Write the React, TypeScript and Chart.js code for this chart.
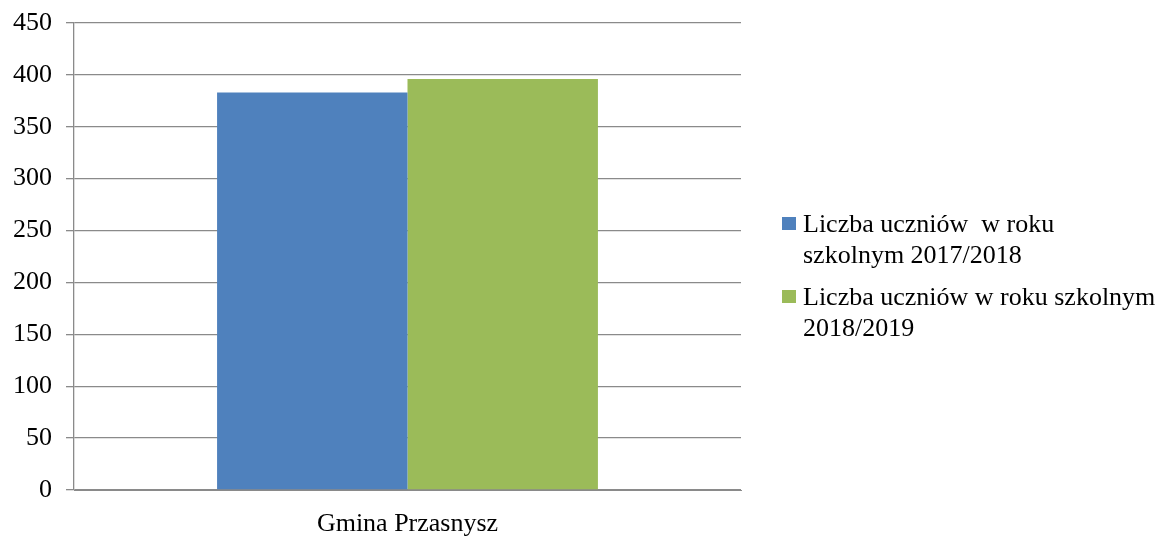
import React, { useEffect, useRef } from "react";
import { Chart, registerables } from "chart.js";

Chart.register(...registerables);

const categories = ["Gmina Przasnysz"];
const seriesLabels = [
  "Liczba uczniów  w roku szkolnym 2017/2018",
  "Liczba uczniów w roku szkolnym 2018/2019",
];
const series2017 = [383];
const series2018 = [396];
const legendLines = [
  ["Liczba uczniów  w roku", "szkolnym 2017/2018"],
  ["Liczba uczniów w roku szkolnym", "2018/2019"],
];
const yTicks = { min: 0, max: 450, step: 50 };

const FONT = "'Liberation Serif', 'Times New Roman', serif";

const legendPlugin = {
  id: "customLegend",
  afterDraw(chart: any) {
    const ctx = chart.ctx;
    const area = chart.chartArea;
    ctx.save();
    ctx.font = `26px ${FONT}`;
    ctx.textBaseline = "alphabetic";
    ctx.textAlign = "left";
    const x0 = area.right + 41;
    let baseY = 232;
    chart.data.datasets.forEach((ds: any, i: number) => {
      ctx.fillStyle = ds.backgroundColor;
      ctx.fillRect(x0, baseY - 15, 14, 13);
      ctx.fillStyle = "#000";
      const lines = legendLines[i];
      lines.forEach((line: string, j: number) => {
        ctx.fillText(line, x0 + 21, baseY + j * 31);
      });
      baseY += (lines.length - 1) * 31 + 42;
    });
    ctx.restore();
  },
};

export default function App() {
  const ref = useRef<HTMLCanvasElement | null>(null);
  useEffect(() => {
    if (!ref.current) return;
    const chart = new Chart(ref.current, {
      type: "bar",
      data: {
        labels: categories,
        datasets: [
          {
            label: seriesLabels[0],
            data: series2017,
            backgroundColor: "#4F81BD",
            categoryPercentage: 0.571,
            barPercentage: 1,
          },
          {
            label: seriesLabels[1],
            data: series2018,
            backgroundColor: "#9BBB59",
            categoryPercentage: 0.571,
            barPercentage: 1,
          },
        ],
      },
      options: {
        animation: false,
        responsive: true,
        maintainAspectRatio: false,
        layout: { padding: { top: 23, right: 425, bottom: 0, left: 0 } },
        plugins: {
          legend: { display: false },
          tooltip: { enabled: false },
        },
        scales: {
          x: {
            grid: { display: false, drawTicks: false, tickLength: 0 },
            border: { display: true, color: "#8a8a8a", width: 1 },
            ticks: {
              color: "#000",
              font: { family: FONT, size: 26 },
              padding: 19,
            },
            afterFit(scale: any) {
              scale.height = 46;
              scale.paddingLeft = 0;
              scale.paddingRight = 0;
            },
          },
          y: {
            min: yTicks.min,
            max: yTicks.max,
            ticks: {
              stepSize: yTicks.step,
              color: "#000",
              font: { family: FONT, size: 26 },
              padding: 14,
            },
            grid: {
              color: "#8a8a8a",
              lineWidth: 1.3,
              tickLength: 8,
              drawTicks: true,
            },
            border: { display: true, color: "#8a8a8a", width: 1.3 },
            afterFit(scale: any) {
              scale.width = 74;
              scale.paddingTop = 0;
              scale.paddingBottom = 0;
            },
          },
        },
      },
      plugins: [legendPlugin],
    });
    return () => chart.destroy();
  }, []);
  return (
    <div style={{ position: "fixed", left: 0, top: 0, width: 1166, height: 536, background: "#fff" }}>
      <canvas ref={ref} />
    </div>
  );
}
